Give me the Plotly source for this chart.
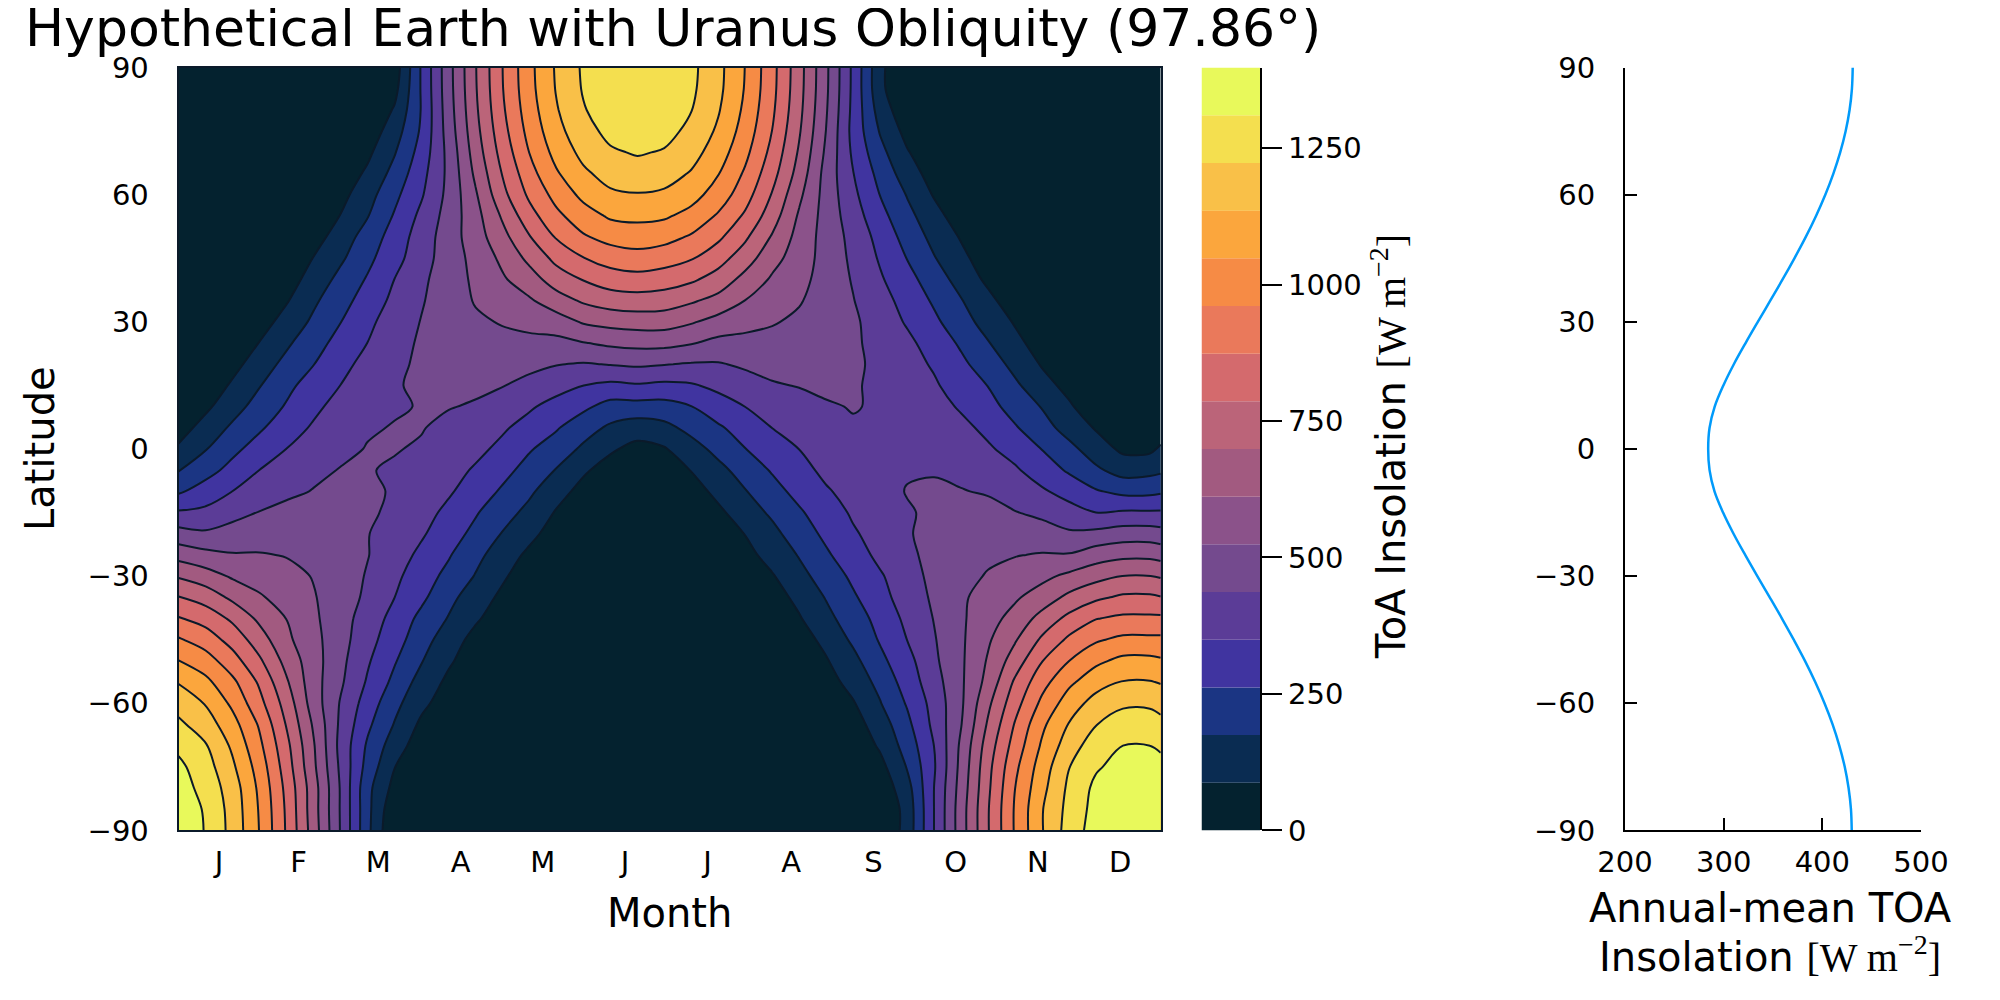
import plotly.graph_objects as go

# ---------------- data ----------------
day_of_year = [1, 11, 21, 31, 41, 51, 61, 71, 81, 91, 101, 111, 121, 131, 141, 151, 161, 171, 181,
               191, 201, 211, 221, 231, 241, 251, 261, 271, 281, 291, 301, 311, 321, 331, 341, 351, 361, 365]
latitude = [-90, -85, -80, -75, -70, -65, -60, -55, -50, -45, -40, -35, -30, -25, -20, -15, -10, -5, 0,
            5, 10, 15, 20, 25, 30, 35, 40, 45, 50, 55, 60, 65, 70, 75, 80, 85, 90]

# ToA insolation [W m^-2], one row per latitude (south to north), one column per day
insolation = [
    [1373, 1305, 1194, 1045, 864, 657, 432, 198, 0, 0, 0, 0, 0, 0, 0, 0, 0, 0, 0, 0, 0, 0, 0, 0, 0, 0, 0, 120, 350, 570, 780, 970, 1130, 1260, 1350, 1390, 1390, 1380],
    [1370, 1300, 1190, 1040, 860, 650, 430, 200, 20, 0, 0, 0, 0, 0, 0, 0, 0, 0, 0, 0, 0, 0, 0, 0, 0, 0, 0, 120, 350, 570, 780, 970, 1130, 1250, 1340, 1390, 1390, 1370],
    [1350, 1280, 1180, 1030, 850, 650, 430, 200, 60, 0, 0, 0, 0, 0, 0, 0, 0, 0, 0, 0, 0, 0, 0, 0, 0, 0, 30, 140, 350, 560, 770, 960, 1110, 1240, 1330, 1370, 1370, 1360],
    [1330, 1260, 1150, 1010, 830, 630, 420, 230, 90, 10, 0, 0, 0, 0, 0, 0, 0, 0, 0, 0, 0, 0, 0, 0, 0, 0, 60, 180, 340, 550, 760, 940, 1090, 1220, 1300, 1340, 1340, 1330],
    [1290, 1230, 1120, 980, 810, 620, 410, 250, 130, 40, 0, 0, 0, 0, 0, 0, 0, 0, 0, 0, 0, 0, 0, 0, 0, 20, 100, 210, 350, 540, 740, 910, 1060, 1180, 1270, 1310, 1310, 1300],
    [1240, 1180, 1080, 950, 780, 600, 420, 280, 170, 70, 10, 0, 0, 0, 0, 0, 0, 0, 0, 0, 0, 0, 0, 0, 0, 50, 130, 240, 370, 520, 710, 880, 1030, 1140, 1220, 1260, 1260, 1250],
    [1190, 1130, 1030, 900, 750, 570, 430, 310, 200, 110, 40, 0, 0, 0, 0, 0, 0, 0, 0, 0, 0, 0, 0, 0, 20, 80, 170, 270, 380, 510, 680, 840, 980, 1090, 1170, 1210, 1210, 1190],
    [1130, 1070, 980, 860, 710, 560, 450, 340, 240, 140, 70, 10, 0, 0, 0, 0, 0, 0, 0, 0, 0, 0, 0, 0, 50, 120, 200, 300, 400, 510, 640, 800, 930, 1030, 1100, 1140, 1140, 1130],
    [1050, 1000, 910, 800, 670, 560, 460, 360, 270, 180, 100, 40, 0, 0, 0, 0, 0, 0, 0, 0, 0, 0, 0, 20, 80, 150, 240, 320, 420, 510, 620, 740, 870, 960, 1030, 1070, 1070, 1060],
    [970, 920, 840, 740, 630, 550, 470, 380, 300, 210, 130, 60, 10, 0, 0, 0, 0, 0, 0, 0, 0, 0, 0, 50, 110, 190, 270, 350, 430, 510, 600, 690, 800, 890, 950, 980, 980, 980],
    [880, 840, 770, 680, 610, 540, 470, 400, 320, 240, 170, 100, 40, 0, 0, 0, 0, 0, 0, 0, 0, 0, 20, 80, 150, 220, 290, 370, 440, 510, 580, 640, 730, 810, 870, 890, 890, 890],
    [790, 750, 680, 620, 580, 530, 480, 420, 350, 280, 200, 130, 70, 10, 0, 0, 0, 0, 0, 0, 0, 10, 50, 110, 180, 250, 320, 390, 450, 510, 560, 600, 650, 720, 770, 800, 800, 790],
    [690, 650, 600, 580, 550, 520, 480, 430, 370, 300, 240, 170, 100, 40, 0, 0, 0, 0, 0, 0, 0, 30, 80, 150, 210, 280, 340, 400, 460, 500, 530, 560, 590, 630, 670, 700, 700, 690],
    [580, 550, 530, 530, 520, 510, 480, 440, 390, 330, 270, 200, 130, 70, 20, 0, 0, 0, 0, 0, 10, 60, 120, 180, 250, 310, 370, 420, 460, 490, 510, 520, 530, 530, 570, 590, 590, 580],
    [470, 450, 470, 480, 490, 490, 470, 440, 400, 360, 300, 240, 170, 110, 50, 0, 0, 0, 0, 0, 30, 90, 150, 220, 280, 340, 380, 430, 460, 480, 490, 480, 470, 450, 460, 480, 480, 470],
    [360, 370, 410, 440, 460, 470, 460, 450, 420, 380, 330, 270, 210, 150, 80, 30, 0, 0, 0, 20, 70, 130, 190, 250, 310, 360, 400, 430, 450, 460, 460, 440, 420, 380, 350, 360, 360, 360],
    [250, 300, 350, 390, 420, 440, 450, 450, 430, 400, 360, 310, 250, 190, 120, 60, 10, 0, 0, 50, 110, 170, 230, 290, 340, 380, 410, 440, 450, 440, 430, 400, 360, 320, 270, 240, 240, 250],
    [170, 230, 290, 350, 390, 420, 440, 440, 430, 410, 380, 340, 290, 230, 170, 100, 50, 10, 40, 90, 150, 210, 270, 320, 370, 400, 420, 430, 430, 420, 400, 360, 310, 250, 190, 140, 150, 160],
    [100, 170, 240, 300, 350, 390, 420, 440, 440, 430, 400, 370, 330, 270, 220, 160, 100, 60, 80, 140, 200, 260, 310, 350, 390, 410, 430, 430, 420, 400, 360, 320, 260, 200, 130, 70, 70, 100],
    [50, 120, 190, 250, 310, 360, 400, 430, 440, 440, 420, 400, 360, 320, 270, 210, 160, 130, 150, 200, 250, 300, 350, 390, 410, 430, 430, 420, 400, 370, 330, 270, 210, 140, 80, 20, 20, 40],
    [10, 70, 140, 210, 270, 330, 380, 410, 430, 440, 440, 430, 400, 360, 320, 280, 230, 230, 230, 260, 310, 350, 390, 410, 430, 440, 430, 410, 380, 340, 290, 230, 170, 100, 30, 0, 0, 10],
    [0, 30, 100, 170, 240, 300, 350, 400, 430, 450, 460, 450, 440, 410, 380, 350, 330, 340, 330, 340, 370, 400, 430, 440, 450, 440, 430, 400, 360, 310, 260, 190, 120, 60, 0, 0, 0, 0],
    [0, 10, 60, 130, 200, 260, 320, 380, 420, 450, 470, 470, 470, 460, 440, 430, 440, 450, 440, 430, 430, 450, 460, 470, 460, 450, 420, 380, 340, 280, 220, 150, 80, 20, 0, 0, 0, 0],
    [0, 0, 30, 90, 160, 230, 290, 350, 400, 450, 480, 490, 500, 500, 500, 520, 540, 550, 550, 530, 500, 500, 500, 490, 470, 450, 410, 370, 310, 250, 180, 110, 50, 0, 0, 0, 0, 0],
    [0, 0, 0, 50, 120, 190, 260, 330, 390, 440, 480, 510, 530, 550, 570, 620, 640, 650, 650, 620, 580, 550, 530, 510, 480, 450, 400, 340, 280, 210, 140, 80, 20, 0, 0, 0, 0, 0],
    [0, 0, 0, 20, 80, 160, 230, 300, 370, 430, 480, 530, 570, 600, 660, 710, 740, 750, 740, 710, 670, 610, 570, 530, 490, 440, 380, 320, 250, 180, 110, 40, 0, 0, 0, 0, 0, 0],
    [0, 0, 0, 0, 50, 120, 200, 270, 350, 420, 480, 540, 600, 660, 740, 790, 830, 840, 830, 800, 750, 670, 600, 550, 490, 430, 360, 290, 220, 140, 70, 20, 0, 0, 0, 0, 0, 0],
    [0, 0, 0, 0, 20, 90, 160, 240, 320, 400, 480, 550, 630, 720, 810, 870, 910, 930, 910, 880, 820, 740, 640, 570, 490, 420, 340, 260, 180, 110, 40, 0, 0, 0, 0, 0, 0, 0],
    [0, 0, 0, 0, 0, 50, 130, 210, 300, 390, 480, 570, 670, 780, 880, 950, 990, 1000, 990, 950, 890, 800, 690, 580, 490, 410, 320, 230, 150, 80, 20, 0, 0, 0, 0, 0, 0, 0],
    [0, 0, 0, 0, 0, 20, 90, 170, 270, 370, 470, 580, 710, 840, 940, 1010, 1060, 1070, 1060, 1020, 950, 860, 740, 600, 490, 390, 290, 200, 120, 40, 0, 0, 0, 0, 0, 0, 0, 0],
    [0, 0, 0, 0, 0, 0, 60, 140, 240, 340, 460, 600, 760, 890, 990, 1070, 1120, 1130, 1120, 1080, 1010, 910, 780, 630, 490, 370, 260, 170, 80, 20, 0, 0, 0, 0, 0, 0, 0, 0],
    [0, 0, 0, 0, 0, 0, 28, 103, 203, 320, 456, 628, 790, 928, 1038, 1119, 1169, 1187, 1173, 1128, 1052, 948, 818, 664, 492, 352, 233, 131, 49, 0, 0, 0, 0, 0, 0, 0, 0, 0],
    [0, 0, 0, 0, 0, 0, 4, 68, 168, 296, 461, 651, 819, 962, 1077, 1160, 1212, 1230, 1216, 1169, 1091, 983, 848, 688, 508, 333, 201, 95, 19, 0, 0, 0, 0, 0, 0, 0, 0, 0],
    [0, 0, 0, 0, 0, 0, 0, 34, 133, 275, 474, 669, 842, 989, 1107, 1193, 1245, 1265, 1250, 1202, 1121, 1011, 872, 708, 522, 321, 168, 59, 0, 0, 0, 0, 0, 0, 0, 0, 0, 0],
    [0, 0, 0, 0, 0, 0, 0, 6, 96, 267, 483, 682, 859, 1008, 1128, 1216, 1270, 1289, 1274, 1225, 1143, 1030, 889, 722, 532, 326, 136, 25, 0, 0, 0, 0, 0, 0, 0, 0, 0, 0],
    [0, 0, 0, 0, 0, 0, 0, 0, 60, 270, 489, 690, 869, 1020, 1141, 1230, 1285, 1304, 1289, 1239, 1157, 1042, 899, 730, 539, 330, 109, 0, 0, 0, 0, 0, 0, 0, 0, 0, 0, 0],
    [0, 0, 0, 0, 0, 0, 0, 0, 39, 271, 491, 693, 872, 1024, 1146, 1235, 1289, 1309, 1294, 1244, 1161, 1046, 902, 733, 541, 331, 108, 0, 0, 0, 0, 0, 0, 0, 0, 0, 0, 0],
]

# annual-mean ToA insolation [W m^-2] at each latitude
annual_mean = [429.8, 429.0, 426.6, 422.7, 417.2, 410.4, 402.2, 392.8, 382.4, 371.0, 359.1, 346.7, 334.1,
               321.8, 310.0, 299.4, 290.7, 285.7, 284.3, 285.7, 290.9, 299.7, 310.3, 322.2, 334.6, 347.2,
               359.7, 371.7, 383.1, 393.6, 403.0, 411.2, 418.1, 423.6, 427.6, 430.0, 430.8]

colorbar_max = 1397.4
n_bands = 16
band_colors = ["#04222F", "#0A2C52", "#1B3583", "#4034A0", "#5B3C97", "#744A8E",
               "#8B528A", "#A25A80", "#BB6479", "#D46A6D", "#EA795B", "#F68B45",
               "#FBA63D", "#F9C048", "#F4DF4F", "#E8F95B"]
colorbar_ticks = [0, 250, 500, 750, 1000, 1250]

month_mid_day = [16, 45.5, 75, 105.5, 136, 166.5, 197, 228, 258.5, 289, 319.5, 350]
month_labels = ["J", "F", "M", "A", "M", "J", "J", "A", "S", "O", "N", "D"]
lat_ticks = [-90, -60, -30, 0, 30, 60, 90]
lat_tick_text = ["\u221290", "\u221260", "\u221230", "0", "30", "60", "90"]
mean_ticks = [200, 300, 400, 500]

# ---------------- figure ----------------
W, H = 2000, 1000
OFF = 8  # page body margin
def px(x): return (x - OFF) / W
def py(y): return 1 - (y - OFF) / H

FONT = "DejaVu Sans"
band = colorbar_max / n_bands
stepped = [[k / (n_bands - 1), c] for k, c in enumerate(band_colors)]

fig = go.Figure()
fig.add_trace(go.Contour(
    x=day_of_year, y=latitude, z=insolation, colorscale=stepped, showscale=False,
    contours=dict(start=band, end=(n_bands - 1) * band, size=band, coloring='fill'),
    line=dict(color='#0B1A2A', width=2, smoothing=1), xaxis='x', yaxis='y', hoverinfo='skip'))
fig.add_trace(go.Bar(
    x=[0] * n_bands, y=[band] * n_bands, base=[k * band for k in range(n_bands)],
    marker=dict(color=band_colors, line=dict(width=0)), width=1, xaxis='x2', yaxis='y2',
    showlegend=False, hoverinfo='skip'))
fig.add_trace(go.Scatter(
    x=annual_mean, y=latitude, mode='lines', line=dict(color='#009AFA', width=2.5, shape='spline'),
    xaxis='x3', yaxis='y3', showlegend=False))

tf = dict(family=FONT, size=29, color='black')
ydom = [py(830.4), py(67.6)]
common = dict(showgrid=False, zeroline=False, tickfont=tf, automargin=False)
fig.update_layout(
    template='none',
    width=W, height=H, margin=dict(l=0, r=0, t=0, b=0, autoexpand=False),
    paper_bgcolor='white', plot_bgcolor='white',
    showlegend=False, barmode='overlay',
    xaxis=dict(domain=[px(178.6), px(1160.7)], range=[1, 365], tickvals=month_mid_day, ticktext=month_labels,
               ticks='', showline=True, mirror=True, linecolor='#0B1A2A', linewidth=2,
               ticklabelstandoff=5, anchor='y', **common),
    yaxis=dict(domain=ydom, range=[-90, 90], tickvals=lat_ticks, ticktext=lat_tick_text, ticks='',
               showline=True, mirror=True, linecolor='#0B1A2A', linewidth=2,
               ticklabelstandoff=22, anchor='x', **common),
    xaxis2=dict(domain=[px(1201.5), px(1260.2)], range=[-0.5, 0.5], visible=False, anchor='y2',
                automargin=False),
    yaxis2=dict(domain=ydom, range=[0, colorbar_max], side='right', tickvals=colorbar_ticks,
                ticks='outside', ticklen=20, tickwidth=2, tickcolor='black', showline=True, linecolor='black',
                linewidth=2, anchor='x2', **common),
    xaxis3=dict(domain=[px(1625), px(1921)], range=[200, 500], tickvals=mean_ticks, ticks='inside',
                ticklen=12, tickwidth=2, tickcolor='black', showline=True, linecolor='black', linewidth=2,
                ticklabelstandoff=5, anchor='y3', **common),
    yaxis3=dict(domain=ydom, range=[-90, 90], tickvals=lat_ticks, ticktext=lat_tick_text, ticks='inside',
                ticklen=12, tickwidth=2, tickcolor='black', showline=True, linecolor='black', linewidth=2,
                ticklabelstandoff=22, anchor='x3', **common),
)

unit = "<span style=\"font-family:'Liberation Serif'\">[W m<sup>\u22122</sup>]</span>"
notes = [
    dict(text="Hypothetical Earth with Uranus Obliquity (97.86\u00b0)", x=px(23), y=py(28.5), xanchor='left',
         yanchor='middle', font=dict(family=FONT, size=52)),
    dict(text="Latitude", x=px(40), y=py(449), textangle=-90, xanchor='center', yanchor='middle',
         font=dict(family=FONT, size=40)),
    dict(text="Month", x=px(669.6), y=py(913), xanchor='center', yanchor='middle',
         font=dict(family=FONT, size=40)),
    dict(text="ToA Insolation " + unit, x=px(1388), y=py(447), textangle=-90, xanchor='center',
         yanchor='middle', font=dict(family=FONT, size=40)),
    dict(text="Annual-mean TOA", x=px(1770), y=py(907.5), xanchor='center', yanchor='middle',
         font=dict(family=FONT, size=40)),
    dict(text="Insolation " + unit, x=px(1770), y=py(954), xanchor='center', yanchor='middle',
         font=dict(family=FONT, size=40)),
]
for a in notes:
    a.update(xref='paper', yref='paper', showarrow=False)
    a['font']['color'] = 'black'
fig.update_layout(annotations=notes)
fig.write_html("out.html")
